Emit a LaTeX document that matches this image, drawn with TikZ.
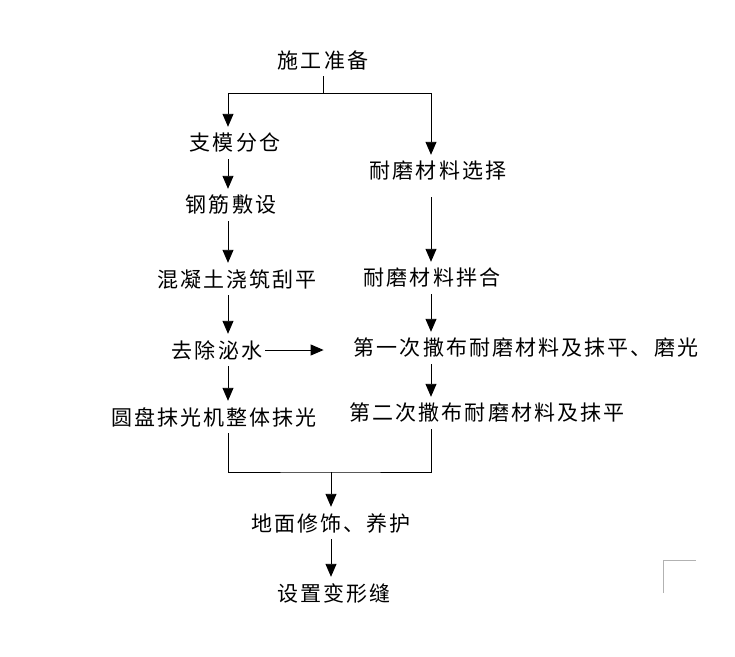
\documentclass[tikz,border=0pt]{standalone}
\usepackage{fontspec}
\newfontfamily\cjk[LetterSpace=10]{Noto Sans CJK SC}
\usetikzlibrary{arrows.meta,positioning}

\begin{document}
\begin{tikzpicture}[
    x=1pt, y=1pt,
    on grid,
    stage/.style={inner sep=0pt, minimum height=32pt, font=\cjk\fontsize{21pt}{25pt}\selectfont},
    arrow/.style={-{Triangle[width=11pt,length=13pt]}, line width=0.9pt},
    link/.style={line width=0.9pt}
]
\useasboundingbox (0,0) rectangle (735,-656);

\node[stage] (prep) at (323,-60) {施工准备};
\coordinate[below=33pt of prep] (split);
\coordinate[left=95pt of split] (lspine);
\coordinate[right=108pt of split] (rspine);

% left column
\node[stage, below=83pt of prep, xshift=-88pt] (formwork) {支模分仓};
\node[stage, below=62pt of formwork, xshift=-4pt] (rebar) {钢筋敷设};
\node[stage, below=74pt of rebar, xshift=6pt] (pour) {混凝土浇筑刮平};
\node[stage, below=71pt of pour, xshift=-20pt] (bleed) {去除泌水};
\node[stage, below=67pt of bleed, xshift=-3pt] (float) {圆盘抹光机整体抹光};

% right column
\node[stage, below=111pt of prep, xshift=115pt] (select) {耐磨材料选择};
\node[stage, below=107pt of select, xshift=-6pt] (mix) {耐磨材料拌合};
\node[stage, below=70pt of mix, xshift=94pt] (spread1) {第一次撒布耐磨材料及抹平、磨光};
\node[stage, below=65pt of spread1, xshift=-39pt] (spread2) {第二次撒布耐磨材料及抹平};

% bottom
\node[stage, below=106pt of float, xshift=117pt] (finish) {地面修饰、养护};
\node[stage, below=70pt of finish, xshift=3pt] (joint) {设置变形缝};
\coordinate[above=51pt of finish] (merge);

\draw[link] (prep.south) -- (split);
\draw[arrow] (split) -| (formwork.north -| lspine);
\draw[arrow] (split) -| (select.north -| rspine);

\draw[arrow] (formwork.south -| lspine) -- (rebar.north -| lspine);
\draw[arrow] (rebar.south -| lspine) -- (pour.north -| lspine);
\draw[arrow] (pour.south -| lspine) -- (bleed.north -| lspine);
\draw[arrow] (bleed.south -| lspine) -- (float.north -| lspine);

\draw[arrow, shorten <=10pt] (select.south -| rspine) -- (mix.north -| rspine);
\draw[arrow] (mix.south -| rspine) -- (spread1.north -| rspine);
\draw[arrow] (spread1.south -| rspine) -- (spread2.north -| rspine);

\draw[arrow, shorten <=3pt, shorten >=30pt] (bleed.east) -- (bleed.east -| spread1.west);

\draw[link] (float.south -| lspine) |- (merge) -| (spread2.south -| rspine);
\draw[arrow] (merge) -- (finish.north);
\draw[arrow] (finish.south) -- (finish.south |- joint.north);

% page corner mark
\draw[gray!60, line width=1pt] (663,-593) |- (696,-560);

\end{tikzpicture}
\end{document}
